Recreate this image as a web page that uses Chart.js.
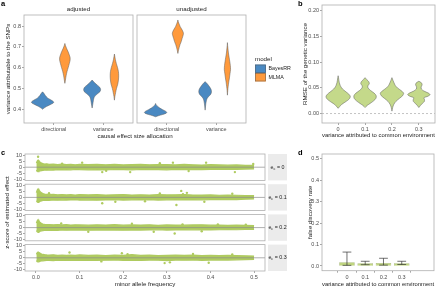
<!DOCTYPE html>
<html lang="en">
<head>
<meta charset="utf-8">
<title>figura</title>
<script src="https://cdn.jsdelivr.net/npm/chart.js@4.4.1/dist/chart.umd.min.js"></script>
<style>
  html, body { margin: 0; padding: 0; background: #ffffff; }
  #figura { position: relative; width: 440px; height: 288px; overflow: hidden; }
  #figura canvas { position: absolute; }
</style>
</head>
<body>
<div id="figura">
  <canvas id="graficoA1" width="134" height="140" style="left:0px;top:0px"></canvas>
  <canvas id="graficoA2" width="292" height="140" style="left:0px;top:0px"></canvas>
  <canvas id="graficoB" width="150" height="139" style="left:290px;top:0px"></canvas>
  <canvas id="graficoD" width="150" height="143" style="left:290px;top:145px"></canvas>
  <canvas id="graficoC1" width="290" height="37" style="left:0px;top:149px"></canvas>
  <canvas id="graficoC2" width="290" height="37" style="left:0px;top:179px"></canvas>
  <canvas id="graficoC3" width="290" height="37" style="left:0px;top:209px"></canvas>
  <canvas id="graficoC4" width="290" height="148" style="left:0px;top:140px"></canvas>
</div>
<script>
// ===== painel a : violinos (valor, densidade relativa) =====
const facetasA = ['adjusted', 'unadjusted'];
const alocacoes = ['directional', 'variance'];
const modelos = ['BayesRR', 'MLMA'];
const ticksA = [0.4, 0.5, 0.6, 0.7, 0.8];

const adjDirBayesY = [0.399, 0.405, 0.412, 0.42, 0.428, 0.433, 0.438, 0.446, 0.455, 0.465, 0.475, 0.483];
const adjDirBayesD = [0, 0.13, 0.34, 0.64, 0.93, 1.0, 0.93, 0.68, 0.42, 0.25, 0.13, 0];
const adjDirMlmaY = [0.524, 0.54, 0.56, 0.58, 0.60, 0.62, 0.635, 0.648, 0.66, 0.675, 0.69, 0.705, 0.716];
const adjDirMlmaD = [0, 0.05, 0.11, 0.19, 0.30, 0.40, 0.47, 0.47, 0.40, 0.30, 0.17, 0.06, 0];
const adjVarBayesY = [0.405, 0.42, 0.44, 0.455, 0.465, 0.475, 0.485, 0.495, 0.505, 0.515, 0.525, 0.535, 0.540];
const adjVarBayesD = [0, 0.05, 0.11, 0.17, 0.30, 0.51, 0.72, 0.76, 0.68, 0.47, 0.25, 0.08, 0];
const adjVarMlmaY = [0.443, 0.46, 0.48, 0.50, 0.52, 0.54, 0.56, 0.58, 0.60, 0.62, 0.64, 0.655, 0.665];
const adjVarMlmaD = [0, 0.04, 0.11, 0.19, 0.30, 0.36, 0.38, 0.36, 0.28, 0.17, 0.08, 0.03, 0];
const unaDirBayesY = [0.363, 0.368, 0.374, 0.38, 0.385, 0.39, 0.397, 0.405, 0.413, 0.42, 0.427];
const unaDirBayesD = [0, 0.25, 0.64, 0.95, 1.0, 0.89, 0.64, 0.38, 0.19, 0.06, 0];
const unaDirMlmaY = [0.668, 0.68, 0.695, 0.71, 0.725, 0.74, 0.755, 0.765, 0.775, 0.785, 0.797, 0.81, 0.82, 0.829];
const unaDirMlmaD = [0, 0.04, 0.11, 0.19, 0.30, 0.38, 0.47, 0.50, 0.44, 0.34, 0.21, 0.11, 0.04, 0];
const unaVarBayesY = [0.395, 0.41, 0.425, 0.44, 0.452, 0.462, 0.472, 0.483, 0.495, 0.507, 0.518, 0.527, 0.532];
const unaVarBayesD = [0, 0.03, 0.06, 0.11, 0.19, 0.34, 0.51, 0.57, 0.53, 0.40, 0.25, 0.11, 0];
const unaVarMlmaY = [0.467, 0.49, 0.51, 0.53, 0.55, 0.57, 0.59, 0.61, 0.63, 0.65, 0.67, 0.69, 0.705, 0.72];
const unaVarMlmaD = [0, 0.03, 0.07, 0.12, 0.18, 0.23, 0.28, 0.26, 0.21, 0.15, 0.09, 0.05, 0.02, 0];

// ===== painel b : RMSE por variancia do ambiente comum =====
const ambiente = ['0', '0.1', '0.2', '0.3'];
const ticksB = [0, 0.05, 0.10, 0.15, 0.20];
const rmse0Y = [0.0105, 0.014, 0.018, 0.022, 0.026, 0.03, 0.034, 0.038, 0.042, 0.046, 0.05, 0.055, 0.06, 0.065, 0.07, 0.0737];
const rmse0D = [0, 0.13, 0.29, 0.54, 0.79, 0.96, 1.0, 0.88, 0.67, 0.46, 0.29, 0.17, 0.10, 0.06, 0.03, 0];
const rmse1Y = [0.012, 0.016, 0.02, 0.025, 0.03, 0.035, 0.04, 0.045, 0.05, 0.054, 0.058, 0.062, 0.066, 0.070];
const rmse1D = [0, 0.17, 0.42, 0.71, 0.90, 0.92, 0.75, 0.46, 0.25, 0.23, 0.35, 0.31, 0.15, 0];
const rmse2Y = [0.005, 0.012, 0.018, 0.024, 0.03, 0.035, 0.04, 0.045, 0.05, 0.055, 0.06, 0.065, 0.07];
const rmse2D = [0, 0.06, 0.15, 0.33, 0.63, 0.88, 0.96, 0.75, 0.46, 0.27, 0.17, 0.08, 0];
const rmse3Y = [0.012, 0.016, 0.02, 0.024, 0.028, 0.031, 0.034, 0.037, 0.04, 0.044, 0.048, 0.052, 0.056, 0.06, 0.063];
const rmse3D = [0, 0.13, 0.29, 0.46, 0.46, 0.42, 0.75, 0.92, 0.79, 0.42, 0.21, 0.19, 0.27, 0.21, 0];

// ===== painel c : z-score x frequencia do alelo menor =====
const rotulosC = ['0', '0.1', '0.2', '0.3'];
const ticksCx = [0, 0.1, 0.2, 0.3, 0.4, 0.5];
const ticksCy = [-10, -5, 0, 5, 10];
const mafGrid = [0.001, 0.003, 0.005, 0.007, 0.01, 0.013, 0.016, 0.02, 0.025, 0.03, 0.04, 0.05, 0.06, 0.07, 0.08, 0.09, 0.1,
  0.12, 0.14, 0.16, 0.18, 0.2, 0.22, 0.24, 0.26, 0.28, 0.3, 0.32, 0.34, 0.36, 0.38, 0.4, 0.42, 0.44, 0.46, 0.48, 0.5];
const zSup1 = [3.5, 5.2, 6.0, 5.0, 4.2, 3.4, 3.0, 2.6, 2.8, 2.3, 2.6, 2.2, 2.5, 2.1, 2.4, 2.0, 2.3, 2.2, 2.4, 2.0, 2.3, 1.9, 2.2, 2.4, 2.0, 2.2, 2.1, 1.9, 2.3, 2.0, 1.8, 2.1, 1.9, 1.7, 1.9, 1.6, 1.5];
const zInf1 = [-2.5, -3.6, -3.8, -3.4, -3.0, -2.8, -2.6, -2.4, -2.5, -2.2, -2.4, -2.1, -2.3, -2.0, -2.2, -1.9, -2.1, -2.2, -2.0, -2.3, -1.9, -2.1, -2.2, -1.9, -2.1, -2.0, -2.2, -1.8, -2.0, -1.9, -2.1, -1.8, -1.9, -1.7, -1.8, -1.6, -1.4];
const zSup2 = [4.0, 6.2, 7.2, 6.0, 4.8, 3.8, 3.2, 2.8, 2.6, 2.4, 2.5, 2.2, 2.4, 2.1, 2.3, 2.0, 2.4, 2.1, 2.3, 2.0, 2.2, 2.4, 2.0, 2.2, 1.9, 2.3, 2.1, 2.2, 2.4, 2.0, 1.9, 2.1, 1.8, 2.0, 1.8, 1.6, 1.4];
const zInf2 = [-2.8, -3.9, -4.2, -3.6, -3.2, -2.9, -2.6, -2.5, -2.3, -2.4, -2.1, -2.3, -2.0, -2.2, -2.1, -1.9, -2.2, -2.0, -2.3, -2.1, -1.9, -2.2, -2.0, -2.1, -1.9, -2.2, -2.0, -1.8, -2.1, -1.9, -2.0, -1.8, -1.9, -1.7, -1.8, -1.5, -1.3];
const zSup3 = [3.8, 5.6, 6.6, 5.4, 4.2, 3.4, 2.9, 2.7, 2.5, 2.6, 2.3, 2.5, 2.2, 2.4, 2.1, 2.3, 2.2, 2.0, 2.3, 2.1, 2.4, 2.0, 2.2, 2.1, 2.3, 1.9, 2.2, 2.1, 2.0, 2.2, 2.3, 2.0, 2.1, 1.9, 2.0, 1.8, 1.6];
const zInf3 = [-2.6, -3.5, -3.9, -3.3, -3.0, -2.7, -2.5, -2.4, -2.2, -2.3, -2.1, -2.3, -2.0, -2.2, -1.9, -2.1, -2.0, -2.2, -1.9, -2.1, -2.0, -2.2, -1.9, -2.1, -2.0, -1.8, -2.1, -1.9, -2.0, -1.8, -2.0, -1.9, -1.8, -1.7, -1.8, -1.6, -1.4];
const zSup4 = [3.0, 4.3, 4.8, 4.4, 3.8, 3.2, 2.8, 2.6, 2.4, 2.3, 2.5, 2.1, 2.3, 2.0, 2.2, 2.1, 2.4, 2.0, 2.2, 1.9, 2.3, 2.1, 2.6, 2.0, 2.2, 1.9, 2.1, 2.3, 2.0, 2.2, 1.9, 2.1, 1.9, 2.0, 1.8, 1.7, 1.5];
const zInf4 = [-2.4, -3.2, -3.5, -3.2, -2.9, -2.6, -2.5, -2.3, -2.2, -2.1, -2.3, -2.0, -2.2, -1.9, -2.1, -2.0, -2.2, -1.9, -2.1, -2.0, -1.8, -2.1, -2.0, -2.2, -1.9, -2.0, -2.3, -1.9, -2.0, -1.8, -2.1, -1.9, -1.8, -1.9, -1.7, -1.6, -1.4];
// pontos soltos fora da faixa [maf, z]
const soltos1 = [[0.005, 8.7], [0.06, 3.0], [0.106, 3.8], [0.152, -4.1], [0.161, -3.0], [0.216, -4.1], [0.284, 3.3], [0.314, 3.8], [0.35, -3.2], [0.39, 3.8], [0.456, -4.1], [0.498, 2.7]];
const soltos2 = [[0.03, 3.5], [0.152, -4.9], [0.182, -3.6], [0.25, -3.2], [0.284, 3.3], [0.322, -6.3], [0.333, 5.4], [0.337, 2.7], [0.346, 3.8], [0.386, -3.6], [0.45, 3.0]];
const soltos3 = [[0.058, 3.5], [0.12, -3.4], [0.22, 3.2], [0.27, -3.5], [0.318, -4.9], [0.336, 2.7], [0.38, -3.0], [0.417, 2.7], [0.481, 2.5]];
const soltos4 = [[0.077, 4.4], [0.15, -3.0], [0.197, 3.8], [0.21, 3.0], [0.295, -4.4], [0.307, -3.8], [0.36, 3.2], [0.396, -4.1], [0.45, 2.8]];

// ===== painel d : taxa de falsas descobertas =====
const ticksD = [0, 0.1, 0.2, 0.3, 0.4, 0.5];
const fdr = [0.018, 0.013, 0.014, 0.013];
const fdrMin = [0.003, 0.006, 0.004, 0.007];
const fdrMax = [0.065, 0.022, 0.036, 0.022];

// ===== estilo =====
const fonte = "'Liberation Sans', Arial, sans-serif";
const coresModelo = ['#4A89C2', '#FF9A3C'];
const verdeViolino = '#C4D98A';
const verdePontos = '#AFCB60';
const contorno = '#5A5A5A';

Chart.defaults.font.family = fonte;
Chart.defaults.font.size = 5.5;
Chart.defaults.color = '#4D4D4D';

function texto(ctx, t, x, y, tam, opc) {
  opc = opc || {};
  ctx.save();
  ctx.font = (opc.negrito ? 'bold ' : '') + tam + 'px ' + fonte;
  ctx.fillStyle = opc.cor || '#1A1A1A';
  ctx.textAlign = opc.alinhar || 'left';
  ctx.textBaseline = 'middle';
  ctx.translate(x, y);
  if (opc.rot) ctx.rotate(opc.rot);
  ctx.fillText(t, 0, 0);
  ctx.restore();
}

// eixo linear com ticks fixos e tamanho da caixa forcado
function escala(cfg) {
  return {
    type: 'linear',
    display: cfg.display !== false,
    min: cfg.min,
    max: cfg.max,
    afterBuildTicks: function (s) { s.ticks = cfg.ticks.map(function (v) { return { value: v }; }); },
    afterFit: function (s) {
      if (cfg.largura !== undefined) s.width = cfg.largura;
      if (cfg.altura !== undefined) s.height = cfg.altura;
    },
    ticks: { autoSkip: false, maxRotation: 0, minRotation: 0, padding: 1, color: '#4D4D4D', font: { size: 5.5 }, callback: cfg.rotulo },
    grid: { drawOnChartArea: false, drawTicks: true, tickLength: 2, color: '#4D4D4D', lineWidth: 0.5 },
    border: { display: false },
    title: cfg.titulo
      ? { display: true, text: cfg.titulo, color: '#1A1A1A', font: { size: 6.2 }, padding: cfg.tituloPad }
      : { display: false }
  };
}

function opcoes(pad, x, y) {
  return {
    responsive: false,
    animation: false,
    events: [],
    layout: { padding: pad, autoPadding: false },
    scales: { x: x, y: y },
    plugins: { legend: { display: false }, tooltip: { enabled: false } }
  };
}

// moldura cinza do painel
const moldura = {
  id: 'moldura',
  afterDraw: function (chart) {
    const a = chart.chartArea, ctx = chart.ctx;
    ctx.save();
    ctx.strokeStyle = '#AFAFAF';
    ctx.lineWidth = 0.8;
    ctx.strokeRect(a.left, a.top, a.right - a.left, a.bottom - a.top);
    ctx.restore();
  }
};

function violino(cx, ys, dens, meia, cor) {
  const pts = [];
  for (let i = 0; i < ys.length; i++) pts.push({ x: cx + dens[i] * meia, y: ys[i] });
  for (let i = ys.length - 1; i >= 0; i--) pts.push({ x: cx - dens[i] * meia, y: ys[i] });
  return { data: pts, backgroundColor: cor, borderColor: contorno, borderWidth: 0.5, fill: 'shape', tension: 0.3, pointRadius: 0 };
}

// ---------- painel a ----------
const violinosA = [
  [adjDirBayesY, adjDirBayesD, adjDirMlmaY, adjDirMlmaD, adjVarBayesY, adjVarBayesD, adjVarMlmaY, adjVarMlmaD],
  [unaDirBayesY, unaDirBayesD, unaDirMlmaY, unaDirMlmaD, unaVarBayesY, unaVarBayesD, unaVarMlmaY, unaVarMlmaD]
];

function datasetsA(f) {
  const v = violinosA[f];
  const ds = [];
  for (let a = 0; a < alocacoes.length; a++) {
    for (let m = 0; m < modelos.length; m++) {
      const k = (a * 2 + m) * 2;
      ds.push(violino(a + 1 + (m === 0 ? -0.225 : 0.225), v[k], v[k + 1], 0.225, coresModelo[m]));
    }
  }
  return ds;
}

function eixoXA() {
  return escala({ min: 0.4, max: 2.6, ticks: [1, 2], altura: 17, rotulo: function (v) { return alocacoes[v - 1]; } });
}

new Chart(document.getElementById('graficoA1'), {
  type: 'line',
  data: { datasets: datasetsA(0) },
  options: opcoes({ top: 15, right: 1, left: 0, bottom: 0 }, eixoXA(),
    escala({ min: 0.333, max: 0.853, ticks: ticksA, largura: 24, rotulo: function (v) { return v.toFixed(1); },
      titulo: 'variance attributable to the SNPs', tituloPad: { top: 4.3, bottom: 0 } })),
  plugins: [moldura, {
    id: 'textosA1',
    afterDraw: function (chart) {
      const a = chart.chartArea;
      texto(chart.ctx, 'a', 1, 4, 7.5, { negrito: true, cor: '#000' });
      texto(chart.ctx, facetasA[0], (a.left + a.right) / 2, 9.5, 6.2, { alinhar: 'center' });
    }
  }]
});

new Chart(document.getElementById('graficoA2'), {
  type: 'line',
  data: { datasets: datasetsA(1) },
  options: opcoes({ top: 15, right: 46, left: 137, bottom: 0 }, eixoXA(),
    escala({ display: false, min: 0.333, max: 0.853, ticks: ticksA })),
  plugins: [moldura, {
    id: 'textosA2',
    afterDraw: function (chart) {
      const a = chart.chartArea, ctx = chart.ctx;
      texto(ctx, facetasA[1], (a.left + a.right) / 2, 9.5, 6.2, { alinhar: 'center' });
      texto(ctx, 'causal effect size allocation', 135, 136, 6.2, { alinhar: 'center' });
      // legenda do modelo
      texto(ctx, 'model', 255, 59.5, 6.2);
      for (let m = 0; m < modelos.length; m++) {
        const y0 = 64.5 + m * 8.5;
        ctx.save();
        ctx.fillStyle = coresModelo[m];
        ctx.fillRect(255, y0, 11, 8.5);
        ctx.strokeStyle = contorno;
        ctx.lineWidth = 0.5;
        ctx.strokeRect(255.5, y0 + 0.5, 10, 7.5);
        ctx.restore();
        texto(ctx, modelos[m], 268.5, y0 + 4.4, 5.3, { cor: '#1A1A1A' });
      }
    }
  }]
});

// ---------- painel b ----------
const violinosB = [[rmse0Y, rmse0D], [rmse1Y, rmse1D], [rmse2Y, rmse2D], [rmse3Y, rmse3D]];

new Chart(document.getElementById('graficoB'), {
  type: 'line',
  data: { datasets: violinosB.map(function (v, i) { return violino(i, v[0], v[1], 0.45, verdeViolino); }) },
  options: opcoes({ top: 5, right: 5, left: 0, bottom: 0 },
    escala({ min: -0.6, max: 3.6, ticks: [0, 1, 2, 3], altura: 16, rotulo: function (v) { return ambiente[v]; },
      titulo: 'variance attributed to common environment', tituloPad: { top: 0, bottom: 0.3 } }),
    escala({ min: -0.018, max: 0.211, ticks: ticksB, largura: 32, rotulo: function (v) { return v.toFixed(2); },
      titulo: 'RMSE of the genetic variance', tituloPad: { top: 11.2, bottom: 0 } })),
  plugins: [moldura, {
    id: 'textosB',
    beforeDatasetsDraw: function (chart) {
      const a = chart.chartArea, ctx = chart.ctx;
      const y0 = chart.scales.y.getPixelForValue(0);
      ctx.save();
      ctx.strokeStyle = '#9A9A9A';
      ctx.lineWidth = 0.6;
      ctx.setLineDash([2, 2]);
      ctx.beginPath();
      ctx.moveTo(a.left, y0);
      ctx.lineTo(a.right, y0);
      ctx.stroke();
      ctx.restore();
    },
    afterDraw: function (chart) {
      texto(chart.ctx, 'b', 8, 4, 7.5, { negrito: true, cor: '#000' });
    }
  }]
});

// ---------- painel c ----------
const faixasC = [[zSup1, zInf1, soltos1], [zSup2, zInf2, soltos2], [zSup3, zInf3, soltos3], [zSup4, zInf4, soltos4]];
const topoFacetaC = [154, 184.2, 214.4, 244.6];
const alturaFacetaC = 26.4;
const topoCanvasC = [149, 179, 209, 140];

function faixaC(k, ultimo) {
  const f = faixasC[k];
  const padTop = topoFacetaC[k] - topoCanvasC[k];
  const altCanvas = ultimo ? 148 : 37;
  const eixoX = ultimo
    ? escala({ min: -0.025, max: 0.525, ticks: ticksCx, altura: altCanvas - padTop - alturaFacetaC,
        rotulo: function (v) { return v.toFixed(1); }, titulo: 'minor allele frequency', tituloPad: { top: 0, bottom: 0 } })
    : escala({ display: false, min: -0.025, max: 0.525, ticks: ticksCx });
  new Chart(document.getElementById('graficoC' + (k + 1)), {
    type: 'line',
    data: {
      datasets: [
        { data: mafGrid.map(function (m, i) { return { x: m, y: f[0][i] }; }), borderColor: verdePontos, backgroundColor: verdePontos,
          borderWidth: 1.2, pointRadius: 0, fill: '+1', tension: 0 },
        { data: mafGrid.map(function (m, i) { return { x: m, y: f[1][i] }; }), borderColor: verdePontos, backgroundColor: verdePontos,
          borderWidth: 1.2, pointRadius: 0, fill: false, tension: 0 },
        { data: f[2].map(function (p) { return { x: p[0], y: p[1] }; }), showLine: false, pointRadius: 1.2,
          pointBackgroundColor: verdePontos, pointBorderWidth: 0, fill: false }
      ]
    },
    options: opcoes({ top: padTop, right: 25, left: 0, bottom: ultimo ? 0 : altCanvas - padTop - alturaFacetaC }, eixoX,
      escala({ min: -11, max: 11, ticks: ticksCy, largura: 25, rotulo: function (v) { return String(v); } })),
    plugins: [moldura, {
      id: 'textosC' + k,
      afterDatasetsDraw: function (chart) {
        const a = chart.chartArea, ctx = chart.ctx;
        const y0 = chart.scales.y.getPixelForValue(0);
        ctx.save();
        ctx.strokeStyle = '#8C8C8C';
        ctx.lineWidth = 0.7;
        ctx.beginPath();
        ctx.moveTo(a.left, y0);
        ctx.lineTo(a.right, y0);
        ctx.stroke();
        ctx.restore();
      },
      afterDraw: function (chart) {
        const a = chart.chartArea, ctx = chart.ctx;
        // faixa cinza com o rotulo e_c
        ctx.save();
        ctx.fillStyle = '#EBEBEB';
        ctx.fillRect(a.right + 3, a.top, 19, a.bottom - a.top);
        ctx.restore();
        const cx = a.right + 12.5, cy = (a.top + a.bottom) / 2;
        const resto = ' = ' + rotulosC[k];
        ctx.save();
        ctx.font = '5.3px ' + fonte;
        const w1 = ctx.measureText('e').width, w3 = ctx.measureText(resto).width;
        ctx.font = '3.8px ' + fonte;
        const w2 = ctx.measureText('c').width;
        ctx.restore();
        const x0 = cx - (w1 + w2 + w3) / 2;
        texto(ctx, 'e', x0, cy, 5.3);
        texto(ctx, 'c', x0 + w1, cy + 1.6, 3.8);
        texto(ctx, resto, x0 + w1 + w2, cy, 5.3);
        if (ultimo) {
          texto(ctx, 'c', 1, 13, 7.5, { negrito: true, cor: '#000' });
          texto(ctx, 'z-score of estimated effect', 7, 72.5, 6.2, { alinhar: 'center', rot: -Math.PI / 2 });
        }
      }
    }]
  });
}
faixaC(0, false);
faixaC(1, false);
faixaC(2, false);
faixaC(3, true);

// ---------- painel d ----------
new Chart(document.getElementById('graficoD'), {
  type: 'bar',
  data: {
    datasets: [{
      data: fdr.map(function (v, i) { return { x: i, y: v }; }),
      backgroundColor: '#C0D680', borderColor: '#8FA25A', borderWidth: 0.6,
      barPercentage: 0.85, categoryPercentage: 1
    }]
  },
  options: opcoes({ top: 9, right: 6, left: 0, bottom: 0 },
    escala({ min: -0.6, max: 4.0, ticks: [0, 1, 2, 3], altura: 17.3, rotulo: function (v) { return ambiente[v]; },
      titulo: 'variance attributed to common environment', tituloPad: { top: 0, bottom: 0 } }),
    escala({ min: -0.022, max: 0.523, ticks: ticksD, largura: 32, rotulo: function (v) { return v.toFixed(1); },
      titulo: 'false discovery rate', tituloPad: { top: 16.3, bottom: 0 } })),
  plugins: [moldura, {
    id: 'barrasErro',
    afterDatasetsDraw: function (chart) {
      const ctx = chart.ctx, sx = chart.scales.x, sy = chart.scales.y;
      ctx.save();
      ctx.strokeStyle = '#333333';
      ctx.lineWidth = 0.7;
      for (let i = 0; i < fdr.length; i++) {
        const xc = sx.getPixelForValue(i), xl = sx.getPixelForValue(i - 0.24), xr = sx.getPixelForValue(i + 0.24);
        const y1 = sy.getPixelForValue(fdrMin[i]), y2 = sy.getPixelForValue(fdrMax[i]);
        ctx.beginPath();
        ctx.moveTo(xc, y1); ctx.lineTo(xc, y2);
        ctx.moveTo(xl, y1); ctx.lineTo(xr, y1);
        ctx.moveTo(xl, y2); ctx.lineTo(xr, y2);
        ctx.stroke();
      }
      ctx.restore();
    },
    afterDraw: function (chart) {
      texto(chart.ctx, 'd', 8, 8, 7.5, { negrito: true, cor: '#000' });
    }
  }]
});
</script>
</body>
</html>
